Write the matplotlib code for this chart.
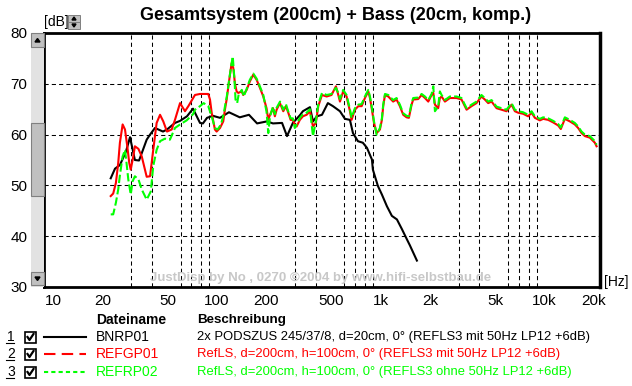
import matplotlib
matplotlib.use('Agg')
import matplotlib.pyplot as plt
from matplotlib.patches import Rectangle, Polygon
from matplotlib.lines import Line2D
from matplotlib.ticker import NullFormatter, FixedLocator

plt.rcParams['font.family'] = ['Liberation Sans', 'DejaVu Sans']

# --- data ---
bnrp01_hz = [22.5, 23.9, 25.6, 27.9, 29.5, 31.6, 33.5, 35.4, 37.3, 39.1, 41.9, 46.9, 49.6,
             55.5, 59.6, 65.7, 71.5, 78.9, 82.2, 87.1, 94.6, 104.5, 118.5, 138, 157, 176,
             202, 220, 250, 268, 291, 321, 335, 370, 386, 408, 438, 476, 511, 564, 605,
             649, 677, 726, 778, 824, 884, 896, 961, 1017, 1091, 1170, 1256, 1347, 1444,
             1507, 1663]
bnrp01_db = [51.4, 53.3, 54.0, 56.7, 59.5, 55.0, 54.9, 57.0, 59.0, 60.0, 61.3, 60.6, 61.0,
             62.3, 62.7, 63.6, 65.1, 62.3, 62.2, 63.3, 63.7, 63.3, 64.4, 63.4, 63.9, 62.2,
             62.6, 62.2, 62.3, 59.7, 62.3, 63.8, 64.6, 65.4, 62.6, 63.6, 63.9, 66.2, 65.6,
             64.6, 63.1, 62.9, 60.3, 58.7, 58.4, 57.4, 55.1, 53.1, 49.9, 48.2, 45.9, 44.0,
             43.3, 41.4, 39.4, 38.2, 35.2]

refgp01_hz = [22.5, 23.3, 24.2, 25.0, 25.6, 26.6, 27.5, 28.4, 29.2, 29.8, 30.9, 31.6, 33.2,
              34.8, 36.4, 37.3, 39.1, 40.9, 42.9, 45.0, 47.1, 49.6, 53.0, 55.5, 59.6, 63.9,
              67.0, 73.5, 78.9, 84.6, 88.6, 90.8, 93.0, 97.3, 99.7, 104.5, 109.4, 112, 114.7,
              117.5, 120.2, 123.1, 126, 128.9, 132, 135.1, 141.6, 145, 152, 159.2, 166.8,
              174.8, 183.2, 192, 201, 206, 211, 220, 226, 231.6, 242.6, 254.3, 264, 272.9,
              282, 291, 299, 306.7, 321, 335, 353, 370, 386, 402, 416, 438, 468, 501, 533,
              551, 564, 590, 619, 649, 664, 696, 730, 765, 801, 840, 860, 884, 910, 944,
              989, 1017, 1036, 1062, 1112, 1191, 1250, 1309, 1372, 1439, 1486, 1544, 1579,
              1694, 1777, 1862, 1951, 2045, 2094, 2143, 2243, 2297, 2353, 2466, 2644, 2903,
              3114, 3263, 3343, 3584, 3843, 4120, 4322, 4530, 4750, 5094, 5465, 5858, 6290,
              6590, 6910, 7400, 7940, 8330, 8730, 9360, 9810, 10520, 11290, 12110, 12570,
              13300, 14270, 15300, 16040, 16820, 17630, 18900, 20280, 20770]
refgp01_db = [47.9, 48.4, 50.5, 54.4, 58.4, 62.0, 61.0, 57.7, 54.4, 53.1, 55.7, 57.7, 57.2,
              55.7, 53.1, 51.7, 51.8, 57.0, 62.3, 63.9, 62.6, 60.6, 61.0, 62.9, 66.2, 64.6,
              65.6, 67.8, 68.0, 68.0, 68.0, 66.9, 64.3, 61.0, 60.6, 61.3, 62.6, 64.9, 66.9,
              69.5, 71.8, 74.1, 73.1, 70.1, 68.5, 68.2, 68.5, 67.8, 68.8, 70.5, 71.8,
              70.8, 69.2, 67.5, 65.2, 62.9, 63.9, 65.2, 63.6, 64.9, 66.2, 64.6, 65.6, 64.3,
              62.9, 62.9, 62.0, 61.6, 62.9, 63.6, 63.9, 64.6, 61.6, 62.3, 65.6, 67.8, 67.5,
              67.8, 69.5, 67.8, 66.5, 68.5, 67.5, 64.6, 62.9, 64.9, 65.6, 65.6, 67.2, 68.5,
              67.2, 64.9, 62.3, 60.3, 61.0, 62.9, 65.6, 67.8, 67.5, 66.5, 66.9, 65.6, 63.9,
              63.4, 63.3, 65.9, 66.9, 67.0, 67.8, 67.2, 66.5, 67.8, 68.2, 65.9, 65.2, 67.2,
              67.5, 66.5, 67.2, 67.2, 66.9, 65.6, 64.9, 65.6, 66.2, 67.5, 66.9, 66.2, 66.5,
              65.2, 64.9, 64.6, 65.9, 64.6, 64.3, 64.1, 63.6, 64.3, 63.3, 62.8, 63.1, 62.9,
              62.4, 61.8, 61.1, 63.1, 62.6, 62.0, 61.3, 60.3, 59.7, 59.4, 58.4, 57.7]

refrp02_hz = [22.5, 23.3, 24.2, 25.0, 25.6, 26.6, 27.5, 28.1, 28.8, 29.8, 30.6, 31.6, 33.2,
              34.8, 37.3, 39.5, 40.9, 42.9, 45.0, 48.2, 51.7, 55.5, 59.6, 65.4, 71.5, 73.5,
              78.9, 83, 88.6, 93, 97.3, 101, 106, 110, 112, 115, 118, 121, 125, 128, 130,
              133, 136, 142, 146, 152, 159, 167, 175, 183, 192, 201, 206, 211, 220, 226, 231,
              243, 254, 264, 273, 282, 291, 299, 307, 321, 335, 353, 370, 386, 402, 416, 438,
              468, 501, 533, 551, 564, 590, 619, 649, 664, 696, 730, 765, 801, 840, 860, 884,
              910, 944, 989, 1017, 1036, 1062, 1112, 1191, 1250, 1309, 1372, 1439, 1486,
              1544, 1579, 1694, 1777, 1862, 1951, 2045, 2094, 2143, 2243, 2297, 2353, 2466,
              2644, 2903, 3114, 3263, 3343, 3584, 3843, 4120, 4322, 4530, 4750, 5094, 5465,
              5858, 6290, 6590, 6910, 7400, 7940, 8330, 8730, 9360, 9810, 10520, 11290,
              12110, 12570, 13300, 14270, 15300, 16040, 16820, 17630, 18900, 20280, 20770]
refrp02_db = [44.3, 44.3, 46.6, 49.2, 52.0, 55.7, 57.0, 54.4, 51.2, 48.2, 50.8, 51.8, 51.2,
              49.2, 47.2, 48.8, 53.8, 57.0, 58.7, 59.2, 59.0, 61.3, 62.0, 62.8, 64.0, 64.9,
              65.6, 66.2, 65.6, 63.6, 61.3, 61.0, 62.0, 64.0, 65.5, 67.5, 70.0, 72.5, 75.4,
              71.0, 66.9, 66.2, 68.0, 68.8, 67.5, 69.0, 70.8, 72.0, 71.0, 69.5, 67.8, 64.5,
              60.3, 63.5, 65.5, 64.0, 65.2, 66.5, 64.9, 66.0, 64.5, 63.2, 63.2, 61.3, 62.0,
              63.3, 64.0, 64.3, 65.0, 59.7, 62.6, 66.0, 68.2, 67.8, 68.0, 69.2, 68.2, 67.0,
              68.8, 67.8, 65.0, 63.3, 65.2, 65.9, 66.0, 67.5, 68.8, 67.5, 65.3, 62.6, 60.0,
              61.3, 63.2, 65.9, 68.0, 67.8, 66.8, 67.2, 65.9, 64.2, 63.7, 63.6, 66.2, 67.2,
              67.3, 68.0, 67.5, 66.8, 68.0, 69.5, 64.6, 65.5, 68.5, 67.8, 66.8, 67.5, 67.5,
              67.2, 65.9, 65.2, 65.9, 66.5, 67.8, 67.2, 66.5, 66.8, 65.5, 65.2, 64.9, 66.2,
              64.9, 64.6, 64.4, 63.9, 64.6, 63.6, 63.1, 63.4, 63.2, 62.7, 62.1, 61.4, 63.4,
              62.9, 62.3, 61.6, 60.6, 60.0, 59.7, 58.7, 58.0]

x_ticks = [10, 20, 50, 100, 200, 500, 1000, 2000, 5000, 10000, 20000]
x_tick_labels = ['10', '20', '50', '100', '200', '500', '1k', '2k', '5k', '10k', '20k']
y_ticks = [30, 40, 50, 60, 70, 80]

file_names = ['BNRP01', 'REFGP01', 'REFRP02']
descriptions = ['2x PODSZUS 245/37/8, d=20cm, 0° (REFLS3 mit 50Hz LP12 +6dB)',
                'RefLS, d=200cm, h=100cm, 0° (REFLS3 mit 50Hz LP12 +6dB)',
                'RefLS, d=200cm, h=100cm, 0° (REFLS3 ohne 50Hz LP12 +6dB)']
colors = ['black', '#ff0000', '#00ff00']

W, H = 632, 386


def fx(x):
    return x / W


def fy(y):
    return 1 - y / H


fig = plt.figure(figsize=(W / 100, H / 100), dpi=100)
fig.patch.set_facecolor('white')
ax = fig.add_axes([fx(44), fy(287), (600 - 44) / W, (287 - 33) / H])

ax.plot(bnrp01_hz, bnrp01_db, color='black', lw=1.5, zorder=5)
ax.plot(refgp01_hz, refgp01_db, color='#ff0000', lw=1.5, zorder=6)
ax.plot(refrp02_hz, refrp02_db, color='#00ff00', lw=1.5, zorder=7,
        linestyle=(0, (4, 1.5)))

ax.set_xscale('log')
ax.set_xlim(8.81, 21800)
ax.set_ylim(30, 80)

ax.xaxis.set_major_locator(FixedLocator(x_ticks))
ax.set_xticklabels(x_tick_labels)
ax.xaxis.set_minor_locator(FixedLocator([m * 10 ** e for e in range(1, 5)
                                         for m in range(1, 10) if m * 10 ** e <= 20000]))
ax.xaxis.set_minor_formatter(NullFormatter())
ax.set_yticks(y_ticks)
ax.tick_params(axis='both', which='both', length=0, labelsize=11)
ax.tick_params(axis='x', pad=5)
ax.tick_params(axis='y', pad=12)

ax.grid(True, which='minor', axis='x', color='black', lw=0.75, linestyle=(0, (4, 3)))
ax.grid(True, which='major', axis='y', color='black', lw=0.75, linestyle=(0, (4, 3)))
for sp in ax.spines.values():
    sp.set_linewidth(2)
ax.spines['right'].set_linewidth(2.5)

# title and unit labels
fig.text(fx(336), fy(16), 'Gesamtsystem (200cm) + Bass (20cm, komp.)', ha='center',
         va='center', fontsize=13, fontweight='bold')
fig.text(fx(44), fy(22), '[dB]', ha='left', va='center', fontsize=10)
fig.text(fx(604), fy(282), '[Hz]', ha='left', va='center', fontsize=10)
fig.text(fx(321), fy(278), 'JustDisp by No , 0270 ©2004 by www.hifi-selbstbau.de',
         ha='center', va='center', fontsize=9.5, fontweight='bold', color='#c8c8c8')

# small spin button next to [dB]
for y0 in (15, 22):
    fig.add_artist(Rectangle((fx(68), fy(y0 + 7)), 12 / W, 7 / H, facecolor='#c0c0c0',
                             edgecolor='#808080', lw=0.7))
fig.add_artist(Polygon([(fx(72), fy(20)), (fx(76), fy(20)), (fx(74), fy(17))], color='black'))
fig.add_artist(Polygon([(fx(72), fy(24)), (fx(76), fy(24)), (fx(74), fy(27))], color='black'))

# scrollbar on the left
fig.add_artist(Rectangle((fx(31), fy(287)), 13 / W, 254 / H, facecolor='#e2e2e2',
                         edgecolor='none'))
fig.add_artist(Rectangle((fx(31), fy(196)), 13 / W, 73 / H, facecolor='#c0c0c0',
                         edgecolor='#808080', lw=0.8))
fig.add_artist(Rectangle((fx(31), fy(47)), 13 / W, 14 / H, facecolor='#c0c0c0',
                         edgecolor='#808080', lw=0.8))
fig.add_artist(Rectangle((fx(31), fy(285)), 13 / W, 13 / H, facecolor='#c0c0c0',
                         edgecolor='#808080', lw=0.8))
fig.add_artist(Polygon([(fx(35), fy(42)), (fx(40), fy(42)), (fx(37.5), fy(38.5))],
                       color='black'))
fig.add_artist(Polygon([(fx(35), fy(277)), (fx(40), fy(277)), (fx(37.5), fy(280.5))],
                       color='black'))

# legend table
fig.text(fx(96), fy(320), 'Dateiname', ha='left', va='center', fontsize=10,
         fontweight='bold')
fig.text(fx(197), fy(320), 'Beschreibung', ha='left', va='center', fontsize=9.6,
         fontweight='bold')
row_y = [337, 354, 372]
samples = ['-', (0, (5.5, 3)), (0, (2, 1.5))]
for i, (name, desc, col, ls) in enumerate(zip(file_names, descriptions, colors, samples)):
    y = row_y[i]
    fig.text(fx(7), fy(y), str(i + 1), ha='left', va='center', fontsize=10)
    fig.add_artist(Line2D([fx(6), fx(14)], [fy(y + 6), fy(y + 6)], color='black', lw=0.8))
    fig.add_artist(Rectangle((fx(25), fy(y + 6)), 11 / W, 11 / H, facecolor='white',
                             edgecolor='black', lw=1.2))
    fig.add_artist(Line2D([fx(27.5), fx(29.5), fx(33.5)], [fy(y), fy(y + 3), fy(y - 3)],
                          color='black', lw=1.6))
    fig.add_artist(Line2D([fx(44), fx(86)], [fy(y), fy(y)], color=col, lw=1.5,
                          linestyle=ls))
    fig.text(fx(96), fy(y), name, ha='left', va='center', fontsize=10, color=col)
    fig.text(fx(197), fy(y), desc, ha='left', va='center', fontsize=9.4, color=col)

fig.savefig('out.png', dpi=100, facecolor='white')
